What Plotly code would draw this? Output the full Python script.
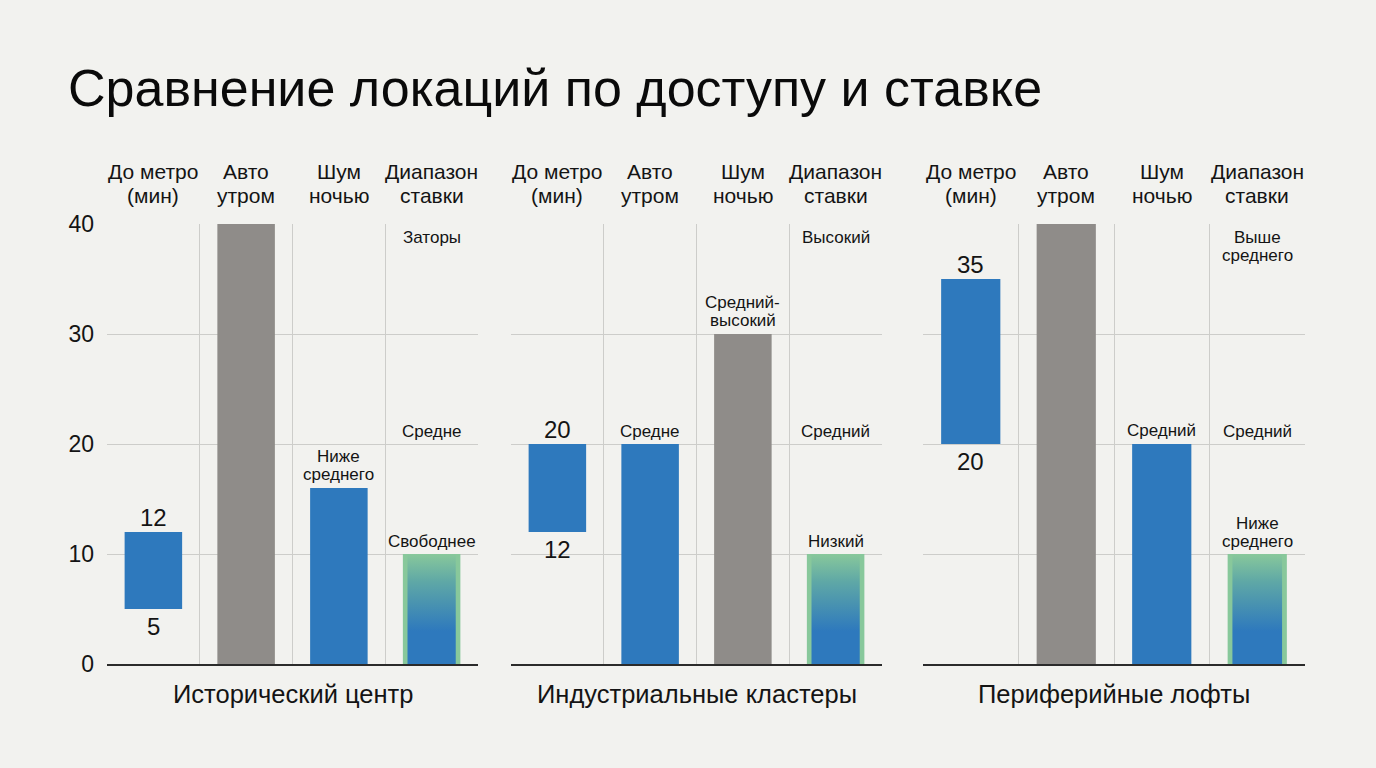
import plotly.graph_objects as go

# ---------------- data ----------------
title = "Сравнение локаций по доступу и ставке"
panels = ["Исторический центр", "Индустриальные кластеры", "Периферийные лофты"]
categories = ["До метро<br>(мин)", "Авто<br>утром", "Шум<br>ночью", "Диапазон<br>ставки"]

metro_low = [5, 12, 20]
metro_high = [12, 20, 35]

auto_values = [40, 20, 40]
auto_labels = ["", "Средне", ""]

noise_values = [16, 30, 20]
noise_labels = ["Ниже<br>среднего", "Средний-<br>высокий", "Средний"]

rate_values = [10, 10, 10]
rate_labels = ["Свободнее", "Низкий", "Ниже<br>среднего"]
rate_top_labels = ["Заторы", "Высокий", "Выше<br>среднего"]
rate_mid_labels = ["Средне", "Средний", "Средний"]
rate_mid_level = 20
y_max = 40
y_ticks = [0, 10, 20, 30, 40]

# ---------------- style ----------------
W, H = 1376, 768
BG = "#f2f2ef"
BLUE = "#2e79bd"
GREY = "#8f8c89"
GREEN = "#88c89b"
GRID = "#cdcdca"
TXT = "#141414"
FONT = "Liberation Sans, Arial, sans-serif"
BAR_W = 0.62
INNER_W = 0.52

x_domains = [[107 / W, 478 / W], [511 / W, 882 / W], [923 / W, 1305 / W]]
y_domain = [1 - 664 / H, 1 - 224 / H]


def py(px):
    return 1 - px / H


def level_color(v):
    return GREY if v >= 30 else BLUE


fig = go.Figure()
annotations = []


def add_text(x, y, text, size, xref, yref, anchor="bottom", shift=0, gap=18):
    """Place (possibly multi-line) text; anchor='bottom' -> last line centre at y+shift,
    anchor='top' -> first line centre at y-shift."""
    lines = text.split("<br>")
    n = len(lines)
    for i, ln in enumerate(lines):
        if anchor == "bottom":
            ys = shift + (n - 1 - i) * gap
        else:
            ys = -shift - i * gap
        annotations.append(dict(x=x, y=y, xref=xref, yref=yref, text=ln, showarrow=False,
                                yanchor="middle", yshift=ys,
                                font=dict(size=size, color=TXT, family=FONT)))


xs = list(range(len(categories)))

for p, name in enumerate(panels):
    xa = "x" if p == 0 else f"x{p+1}"
    ya = "y" if p == 0 else f"y{p+1}"
    # metro floating bar
    fig.add_trace(go.Bar(x=[xs[0]], y=[metro_high[p] - metro_low[p]], base=[metro_low[p]],
                         width=BAR_W, marker=dict(color=BLUE, line=dict(width=0)),
                         xaxis=xa, yaxis=ya, showlegend=False, hoverinfo="skip"))
    # auto
    fig.add_trace(go.Bar(x=[xs[1]], y=[auto_values[p]], width=BAR_W,
                         marker=dict(color=level_color(auto_values[p]), line=dict(width=0)),
                         xaxis=xa, yaxis=ya, showlegend=False, hoverinfo="skip"))
    # noise
    fig.add_trace(go.Bar(x=[xs[2]], y=[noise_values[p]], width=BAR_W,
                         marker=dict(color=level_color(noise_values[p]), line=dict(width=0)),
                         xaxis=xa, yaxis=ya, showlegend=False, hoverinfo="skip"))
    # rate: green outer bar + gradient inner
    fig.add_trace(go.Bar(x=[xs[3]], y=[rate_values[p]], width=BAR_W,
                         marker=dict(color=GREEN, line=dict(width=0)),
                         xaxis=xa, yaxis=ya, showlegend=False, hoverinfo="skip"))
    cx = xs[3]
    h = INNER_W / 2
    fig.add_trace(go.Scatter(x=[cx - h, cx + h, cx + h, cx - h, cx - h],
                             y=[0, 0, rate_values[p], rate_values[p], 0],
                             mode="lines", line=dict(width=0), fill="toself",
                             fillgradient=dict(type="vertical",
                                               colorscale=[[0, BLUE], [0.3, BLUE],
                                                           [0.75, "#5fa8a6"], [1, GREEN]]),
                             xaxis=xa, yaxis=ya, showlegend=False, hoverinfo="skip"))

    # headers (two lines each)
    for i, c in enumerate(categories):
        l1, l2 = c.split("<br>")
        annotations.append(dict(x=xs[i], y=py(171), xref=xa, yref="paper", text=l1,
                                showarrow=False, yanchor="middle",
                                font=dict(size=21, color=TXT, family=FONT)))
        annotations.append(dict(x=xs[i], y=py(195), xref=xa, yref="paper", text=l2,
                                showarrow=False, yanchor="middle",
                                font=dict(size=21, color=TXT, family=FONT)))
    # panel title
    annotations.append(dict(x=(xs[0] + xs[-1]) / 2, y=py(694), xref=xa, yref="paper", text=name,
                            showarrow=False, yanchor="middle",
                            font=dict(size=25.5, color=TXT, family=FONT)))
    # metro labels
    add_text(xs[0], metro_high[p], str(metro_high[p]), 24, xa, ya, "bottom", 15)
    add_text(xs[0], metro_low[p], str(metro_low[p]), 24, xa, ya, "top", 17)
    # auto / noise labels
    if auto_labels[p]:
        add_text(xs[1], auto_values[p], auto_labels[p], 17, xa, ya, "bottom", 13)
    add_text(xs[2], noise_values[p], noise_labels[p], 17, xa, ya, "bottom", 13.5)
    # rate labels
    add_text(xs[3], rate_values[p], rate_labels[p], 17, xa, ya, "bottom", 13)
    add_text(xs[3], rate_mid_level, rate_mid_labels[p], 17, xa, ya, "bottom", 13)
    add_text(xs[3], y_max, rate_top_labels[p], 17, xa, ya, "top", 13)

    xkey = "xaxis" if p == 0 else f"xaxis{p+1}"
    ykey = "yaxis" if p == 0 else f"yaxis{p+1}"
    grid_x = [x + 0.5 for x in xs[:-1]]
    if p == 0:
        grid_x = [xs[0] - 0.5] + grid_x
    fig.update_layout(**{
        xkey: dict(domain=x_domains[p], range=[xs[0] - 0.5, xs[-1] + 0.5], anchor=ya,
                   tickvals=grid_x, showticklabels=False, ticks="", showgrid=True,
                   gridcolor=GRID, gridwidth=1, zeroline=False, showline=True,
                   linecolor="#2b2b2b", linewidth=1.5, fixedrange=True, automargin=False),
        ykey: dict(domain=y_domain, range=[0, y_max], anchor=xa, tickvals=y_ticks,
                   showticklabels=(p == 0), ticks="", showgrid=True, gridcolor=GRID,
                   gridwidth=1, zeroline=False, showline=False, ticklabelstandoff=12,
                   tickfont=dict(size=23, color=TXT, family=FONT), fixedrange=True,
                   automargin=False),
    })

annotations.append(dict(x=66 / W, y=py(88), xref="paper", yref="paper", text=title,
                        showarrow=False, xanchor="left", yanchor="middle",
                        font=dict(size=52, color="#0a0a0a", family=FONT)))

fig.update_layout(width=W, height=H, margin=dict(l=0, r=0, t=0, b=0, autoexpand=False),
                  paper_bgcolor=BG, plot_bgcolor=BG, barmode="overlay",
                  annotations=annotations, showlegend=False,
                  font=dict(family=FONT, color=TXT))

fig.write_html("out.html", config={"displayModeBar": False},
               post_script="document.body.style.margin='0';"
                           "document.body.style.background='" + BG + "';"
                           "document.documentElement.style.background='" + BG + "';")
